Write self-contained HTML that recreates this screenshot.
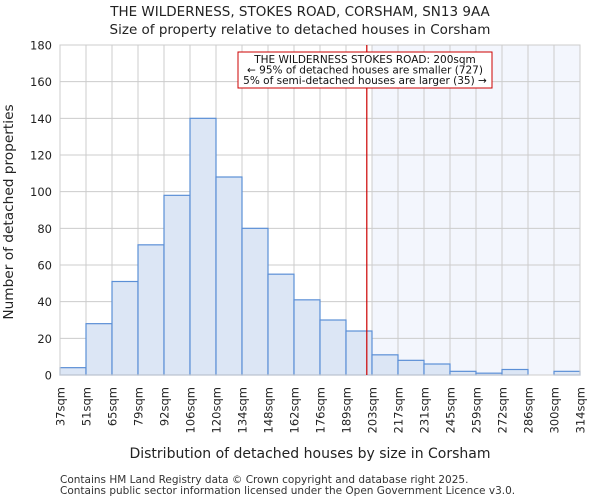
<!DOCTYPE html>
<html><head><meta charset="utf-8"><style>
body{margin:0;background:#fff}
svg{display:block;font-family:"DejaVu Sans","Liberation Sans",sans-serif}
</style></head><body>
<svg id="chart" width="600" height="500" viewBox="0 0 600 500">
<text x="300" y="16" text-anchor="middle" font-size="13.5" fill="#222">THE WILDERNESS, STOKES ROAD, CORSHAM, SN13 9AA</text>
<text x="300" y="34" text-anchor="middle" font-size="13.5" fill="#222">Size of property relative to detached houses in Corsham</text>
<g id="plot"></g>
<text x="310" y="458" text-anchor="middle" font-size="14" fill="#222">Distribution of detached houses by size in Corsham</text>
<text transform="translate(13,212) rotate(-90)" text-anchor="middle" font-size="13.7" fill="#222">Number of detached properties</text>
<text x="60" y="483" font-size="10.5" fill="#333">Contains HM Land Registry data © Crown copyright and database right 2025.</text>
<text x="60" y="494" font-size="10.5" fill="#333">Contains public sector information licensed under the Open Government Licence v3.0.</text>
</svg>
<script>
const binLabels=["37sqm","51sqm","65sqm","79sqm","92sqm","106sqm","120sqm","134sqm","148sqm","162sqm","176sqm","189sqm","203sqm","217sqm","231sqm","245sqm","259sqm","272sqm","286sqm","300sqm","314sqm"];
const counts=[4,28,51,71,98,140,108,80,55,41,30,24,11,8,6,2,1,3,0,2];
const yTicks=[0,20,40,60,80,100,120,140,160,180];
const markerBin=11.8;
const highlightStart=12;

const NS="http://www.w3.org/2000/svg";
const L=60,R=580,T=45,B=375,yMax=180;
const n=counts.length;
const xs=i=>L+(R-L)*i/n;
const ys=v=>B-(B-T)*v/yMax;
const g=document.getElementById('plot');
function mk(tag,attrs,parent){const e=document.createElementNS(NS,tag);for(const k in attrs)e.setAttribute(k,attrs[k]);(parent||g).appendChild(e);return e;}

const hl=mk('rect',{x:xs(highlightStart),y:T,width:R-xs(highlightStart),height:B-T,fill:'#f3f6fd'});


for(const t of yTicks){
  const l=mk('line',{x1:L,x2:R,y1:ys(t),y2:ys(t),stroke:'#cccccc','stroke-width':1});
  
  
  const tx=mk('text',{x:L-8,y:ys(t)+4.5,'text-anchor':'end','font-size':11.5,fill:'#222'});
  tx.textContent=t;
  
  
}
for(let i=0;i<=n;i++){
  const l=mk('line',{x1:xs(i),x2:xs(i),y1:T,y2:B,stroke:'#cccccc','stroke-width':1});
  
  
}
counts.forEach((v,i)=>{
  const r=mk('rect',{x:xs(i),y:ys(v),width:xs(i+1)-xs(i),height:B-ys(v),fill:'#dce6f5',stroke:'#5b8fd6','stroke-width':1.2});
  
  
});
binLabels.forEach((s,i)=>{
  const tx=mk('text',{transform:`translate(${xs(i)+4.5},387) rotate(-90)`,'text-anchor':'end','font-size':11.5,fill:'#222'});
  tx.textContent=s;
  
  
});
const ax=mk('rect',{x:L,y:T,width:R-L,height:B-T,fill:'none',stroke:'#cccccc','stroke-width':1});


const ml=mk('line',{x1:xs(markerBin),x2:xs(markerBin),y1:T,y2:B,stroke:'#cc0000','stroke-width':1.2});


const box=mk('rect',{x:238,y:52,width:254,height:36,fill:'#fff',stroke:'#cc0000','stroke-width':1});


["THE WILDERNESS STOKES ROAD: 200sqm","← 95% of detached houses are smaller (727)","5% of semi-detached houses are larger (35) →"].forEach((s,i)=>{
  const tx=mk('text',{x:365,y:63+i*10.5,'text-anchor':'middle','font-size':10.5,fill:'#111'});
  tx.textContent=s;
  
  
});
</script>
</body></html>
